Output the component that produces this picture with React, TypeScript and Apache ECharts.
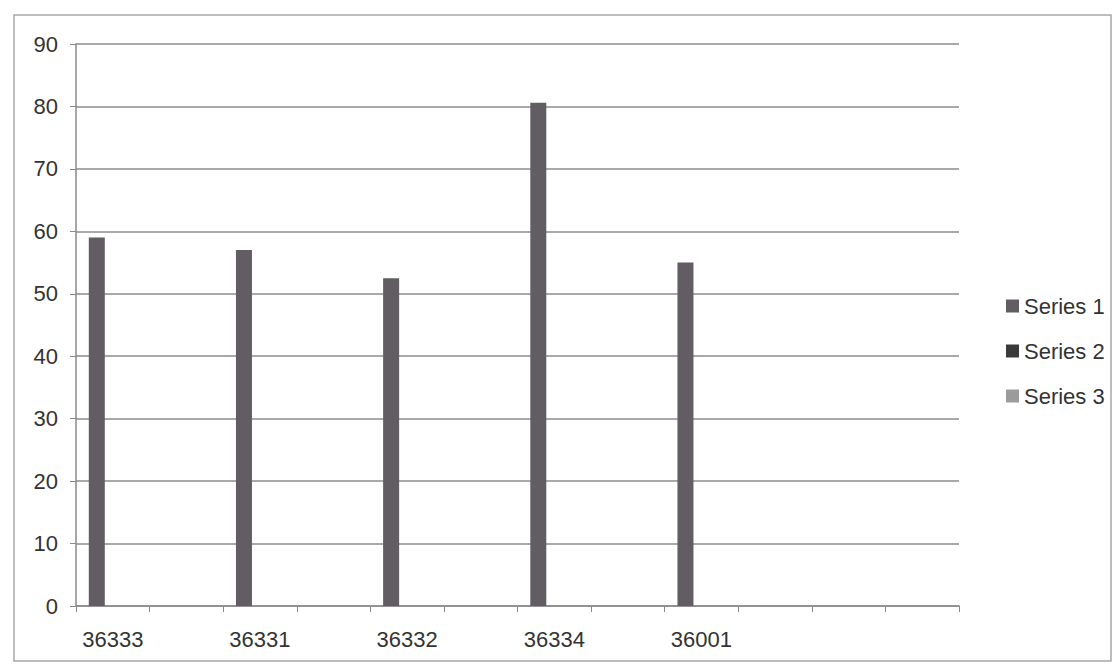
import React, { useEffect, useRef } from "react";
import * as echarts from "echarts";

const categories = ["36333", "", "36331", "", "36332", "", "36334", "", "36001", "", "", ""];
const series1 = [59, null, 57, null, 52.5, null, 80.6, null, 55, null, null, null];
const series2: (number | null)[] = [];
const series3: (number | null)[] = [];
const seriesNames = ["Series 1", "Series 2", "Series 3"];
const yTicks = { min: 0, max: 90, interval: 10 };

const FONT = "Liberation Sans";

export default function App() {
  const ref = useRef<HTMLDivElement>(null);
  useEffect(() => {
    if (!ref.current) return;
    const chart = echarts.init(ref.current, undefined, { renderer: "svg" });
    chart.setOption({
      animation: false,
      backgroundColor: "#ffffff",
      textStyle: { fontFamily: FONT },
      graphic: [
        {
          type: "rect",
          shape: { x: 14, y: 15, width: 1097, height: 646 },
          style: { fill: "none", stroke: "#a8a8a8", lineWidth: 1.5 },
          silent: true,
        },
      ],
      legend: {
        orient: "vertical",
        left: 1001,
        top: 290,
        itemWidth: 13,
        itemHeight: 13,
        itemGap: 23,
        icon: "rect",
        textStyle: { fontSize: 22, color: "#333333", fontFamily: FONT, lineHeight: 22 },
        data: seriesNames,
      },
      grid: { left: 76, right: 159, top: 44, bottom: 62 },
      xAxis: {
        type: "category",
        data: categories,
        boundaryGap: true,
        axisLine: { lineStyle: { color: "#8a8a8a", width: 1.5 } },
        axisTick: { show: true, alignWithLabel: false, length: 6, lineStyle: { color: "#8a8a8a" } },
        axisLabel: { interval: 0, fontSize: 22, color: "#333333", margin: 22, fontFamily: FONT },
      },
      yAxis: {
        type: "value",
        min: yTicks.min,
        max: yTicks.max,
        interval: yTicks.interval,
        axisLine: { show: true, lineStyle: { color: "#8a8a8a", width: 1.5 } },
        axisTick: { show: true, length: 6, lineStyle: { color: "#8a8a8a" } },
        axisLabel: { fontSize: 22, color: "#333333", margin: 18, fontFamily: FONT },
        splitLine: { show: true, lineStyle: { color: "#8c8c8c", width: 1.5 } },
      },
      series: [
        {
          name: seriesNames[0],
          type: "bar",
          data: series1,
          barWidth: 16,
          barGap: "0%",
          itemStyle: { color: "#615d63" },
        },
        {
          name: seriesNames[1],
          type: "bar",
          data: series2,
          barWidth: 16,
          barGap: "0%",
          itemStyle: { color: "#3a3a3c" },
        },
        {
          name: seriesNames[2],
          type: "bar",
          data: series3,
          barWidth: 16,
          barGap: "0%",
          itemStyle: { color: "#9b9b9b" },
        },
      ],
    });
    return () => chart.dispose();
  }, []);
  return (
    <div
      ref={ref}
      style={{ position: "fixed", left: 0, top: 0, width: 1118, height: 668, background: "#fff" }}
    />
  );
}
